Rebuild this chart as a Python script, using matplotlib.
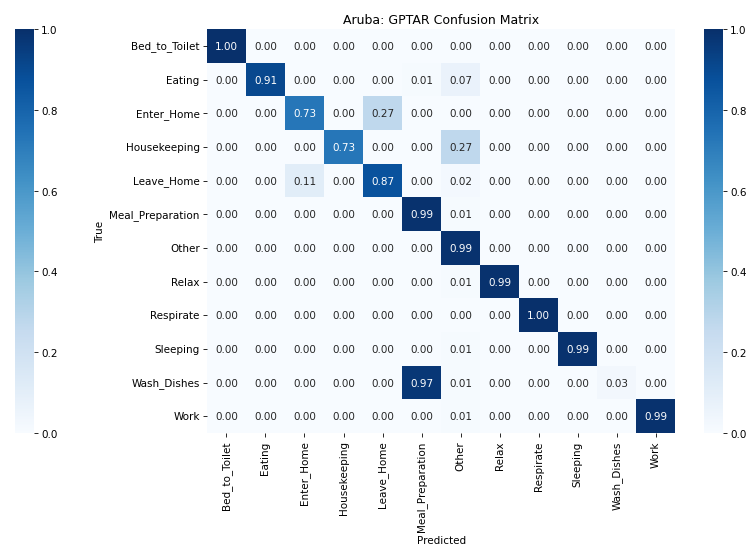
import numpy as np
import matplotlib
matplotlib.use('Agg')
import matplotlib.pyplot as plt
import seaborn as sns

# 클래스 이름
labels = ['Bed_to_Toilet', 'Eating', 'Enter_Home', 'Housekeeping', 'Leave_Home',
          'Meal_Preparation', 'Other', 'Relax', 'Respirate', 'Sleeping',
          'Wash_Dishes', 'Work']

# 정규화된 혼동 행렬 (행: 실제, 열: 예측)
row_bed = [1.00, 0, 0, 0, 0, 0, 0, 0, 0, 0, 0, 0]
row_eat = [0, 0.91, 0, 0, 0, 0.01, 0.07, 0, 0, 0, 0, 0]
row_enter = [0, 0, 0.73, 0, 0.27, 0, 0, 0, 0, 0, 0, 0]
row_house = [0, 0, 0, 0.73, 0, 0, 0.27, 0, 0, 0, 0, 0]
row_leave = [0, 0, 0.11, 0, 0.87, 0, 0.02, 0, 0, 0, 0, 0]
row_meal = [0, 0, 0, 0, 0, 0.99, 0.01, 0, 0, 0, 0, 0]
row_other = [0, 0, 0, 0, 0, 0, 0.99, 0, 0, 0, 0, 0]
row_relax = [0, 0, 0, 0, 0, 0, 0.01, 0.99, 0, 0, 0, 0]
row_resp = [0, 0, 0, 0, 0, 0, 0, 0, 1.00, 0, 0, 0]
row_sleep = [0, 0, 0, 0, 0, 0, 0.01, 0, 0, 0.99, 0, 0]
row_wash = [0, 0, 0, 0, 0, 0.97, 0.01, 0, 0, 0, 0.03, 0]
row_work = [0, 0, 0, 0, 0, 0, 0.01, 0, 0, 0, 0, 0.99]

cm = np.array([row_bed, row_eat, row_enter, row_house, row_leave, row_meal,
               row_other, row_relax, row_resp, row_sleep, row_wash, row_work])

# 원본은 더 큰 그림을 축소한 것처럼 보여서 dpi를 낮춤
fig = plt.figure(figsize=(10, 7.336), dpi=74.7)
ax = fig.add_axes([0.277, 0.208, 0.627, 0.737])
cax_left = fig.add_axes([0.020, 0.208, 0.0255, 0.737])
cax_right = fig.add_axes([0.942, 0.208, 0.0255, 0.737])

sns.heatmap(cm, annot=True, fmt='.2f', cmap='Blues', vmin=0, vmax=1,
            xticklabels=labels, yticklabels=labels, ax=ax, cbar_ax=cax_left)

# 오른쪽 컬러바도 추가
cb = fig.colorbar(ax.collections[0], cax=cax_right)
cb.outline.set_visible(False)

ax.set_title('Aruba: GPTAR Confusion Matrix')
ax.set_xlabel('Predicted')
ax.set_ylabel('True')

fig.savefig('out.png', dpi=74.7)
